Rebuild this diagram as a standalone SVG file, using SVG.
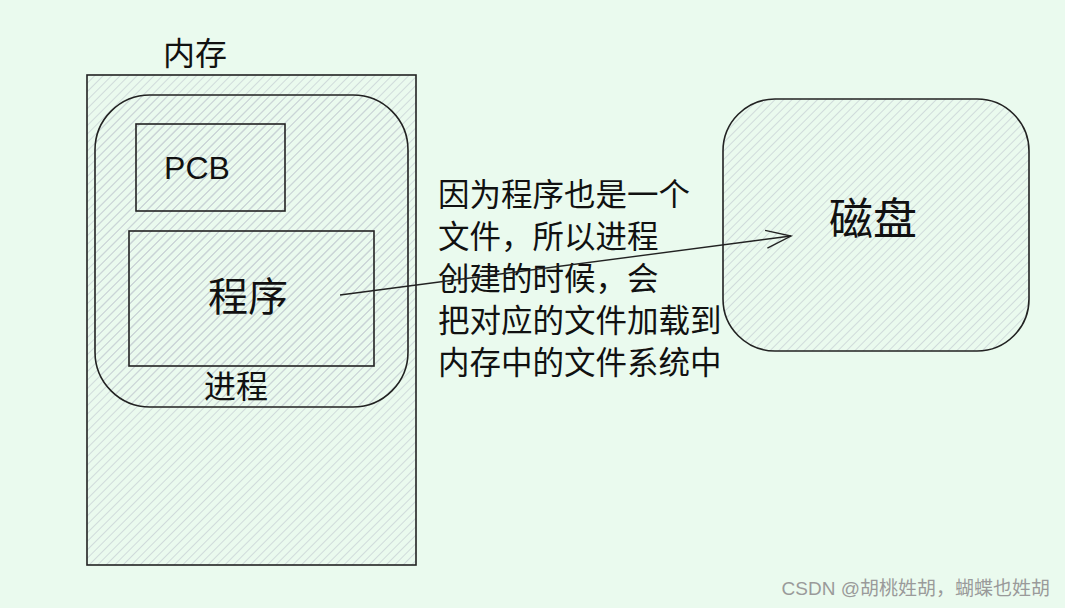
<svg xmlns="http://www.w3.org/2000/svg" width="1065" height="608" viewBox="0 0 1065 608">
<defs>
<pattern id="hatch" width="6" height="6" patternUnits="userSpaceOnUse" patternTransform="rotate(45)">
<rect width="6" height="6" fill="none"/>
<line x1="0" y1="0" x2="0" y2="6" stroke="#c9d3d6" stroke-width="1.6"/>
</pattern>
<marker id="open" markerWidth="28" markerHeight="22" refX="25" refY="11" orient="auto" markerUnits="userSpaceOnUse">
<path d="M0,2 L25,11 L0,20" fill="none" stroke="#222" stroke-width="1.4"/>
</marker>
</defs>
<style>
.shape{fill:url(#hatch);stroke:#222;stroke-width:1.6}
.t{font-family:"Liberation Sans","Noto Sans CJK SC",sans-serif;fill:#111}
</style>
<rect width="1065" height="608" fill="#eafaee"/>
<g id="memory">
<rect class="shape" x="87" y="75" width="329" height="490"/>
<text class="t" x="195" y="65" font-size="32" text-anchor="middle">内存</text>
</g>
<g id="process">
<rect class="shape" x="95" y="95" width="313" height="312" rx="55" ry="55"/>
<text class="t" x="236" y="398" font-size="32" text-anchor="middle">进程</text>
</g>
<g id="pcb">
<rect class="shape" x="136" y="124" width="149" height="87"/>
<text class="t" x="197" y="179" font-size="32" text-anchor="middle">PCB</text>
</g>
<g id="program">
<rect class="shape" x="129" y="231" width="245" height="135"/>
<text class="t" x="248" y="311" font-size="40" text-anchor="middle">程序</text>
</g>
<g id="disk">
<rect class="shape" x="723" y="99" width="306" height="252" rx="52" ry="52"/>
<text class="t" x="873" y="235" font-size="44" text-anchor="middle">磁盘</text>
</g>
<g id="note">
<text class="t" font-size="31.5">
<tspan x="438" y="206">因为程序也是一个</tspan>
<tspan x="438" y="248">文件，所以进程</tspan>
<tspan x="438" y="290">创建的时候，会</tspan>
<tspan x="438" y="332">把对应的文件加载到</tspan>
<tspan x="438" y="374">内存中的文件系统中</tspan>
</text>
</g>
<g id="connectors">
<line x1="340" y1="295" x2="791" y2="236" stroke="#222" stroke-width="1.4" marker-end="url(#open)"/>
</g>
<text x="1050" y="595" font-size="19" text-anchor="end" font-family="Liberation Sans,'Noto Sans CJK SC',sans-serif" fill="#9a9a9a">CSDN @胡桃姓胡，蝴蝶也姓胡</text>
</svg>
